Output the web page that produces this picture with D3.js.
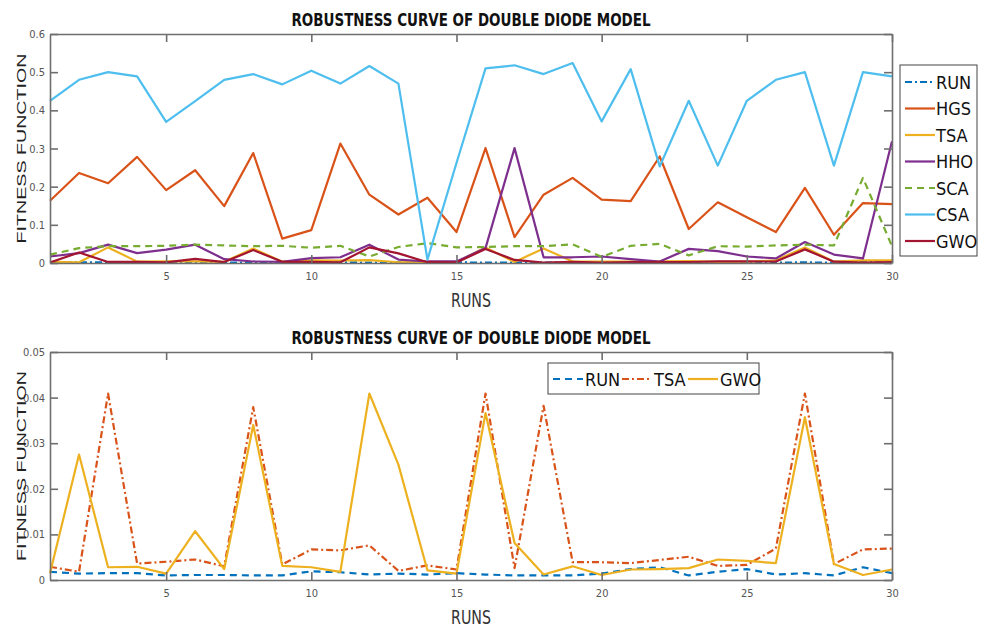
<!DOCTYPE html>
<html><head><meta charset="utf-8">
<script src="https://cdn.jsdelivr.net/npm/d3@7"></script>
<style>
body{margin:0;background:#fff;}
svg{display:block;}
</style></head>
<body>
<svg id="chart" width="989" height="633"></svg>
<script>
const runs = d3.range(1, 31);
const titleText = "ROBUSTNESS CURVE OF DOUBLE DIODE MODEL";
const topTicksY = [0, 0.1, 0.2, 0.3, 0.4, 0.5, 0.6];
const botTicksY = [0, 0.01, 0.02, 0.03, 0.04, 0.05];
const ticksX = [5, 10, 15, 20, 25, 30];

const RUN = [0.0018,0.0014,0.0015,0.0015,0.0010,0.0011,0.0011,0.0010,0.0010,0.0019,
             0.0017,0.0012,0.0014,0.0012,0.0015,0.0012,0.0010,0.0010,0.0010,0.0014,
             0.0024,0.0028,0.0010,0.0018,0.0024,0.0012,0.0015,0.0010,0.0028,0.0015];
const TSA = [0.0029,0.0018,0.0409,0.0036,0.0040,0.0045,0.0030,0.0379,0.0034,0.0067,
             0.0065,0.0076,0.0020,0.0032,0.0023,0.0409,0.0026,0.0382,0.0039,0.0039,
             0.0037,0.0044,0.0051,0.0031,0.0033,0.0069,0.0409,0.0035,0.0067,0.0069];
const GWO = [0.0015,0.0275,0.0028,0.0029,0.0014,0.0107,0.0024,0.0340,0.0031,0.0028,
             0.0018,0.0409,0.0253,0.0021,0.0014,0.0366,0.0081,0.0012,0.0030,0.0011,
             0.0023,0.0024,0.0026,0.0045,0.0042,0.0037,0.0357,0.0035,0.0011,0.0023];
const HGS = [0.163,0.236,0.209,0.278,0.191,0.243,0.149,0.288,0.064,0.086,
             0.313,0.179,0.127,0.171,0.081,0.301,0.068,0.179,0.223,0.166,
             0.162,0.279,0.089,0.159,0.120,0.081,0.197,0.074,0.157,0.154];
const HHO = [0.017,0.026,0.048,0.026,0.035,0.048,0.010,0.004,0.003,0.013,
             0.015,0.048,0.009,0.004,0.004,0.039,0.301,0.015,0.015,0.017,
             0.010,0.004,0.037,0.031,0.017,0.012,0.055,0.022,0.012,0.319];
const SCA = [0.022,0.039,0.044,0.044,0.045,0.048,0.046,0.044,0.045,0.040,
             0.045,0.017,0.042,0.052,0.041,0.042,0.044,0.044,0.049,0.016,
             0.045,0.050,0.020,0.044,0.043,0.046,0.048,0.046,0.223,0.044];
const CSA = [0.425,0.480,0.500,0.489,0.370,0.424,0.480,0.495,0.468,0.504,
             0.470,0.516,0.470,0.009,0.262,0.510,0.518,0.495,0.524,0.371,
             0.508,0.253,0.425,0.255,0.425,0.480,0.500,0.255,0.500,0.489];

const topSeries = [
  {name:"RUN", values:RUN, color:"#0072BD", dash:"7,3,2,3"},
  {name:"HGS", values:HGS, color:"#D95319", dash:null},
  {name:"TSA", values:TSA, color:"#EDB120", dash:null},
  {name:"HHO", values:HHO, color:"#7E2F8E", dash:null},
  {name:"SCA", values:SCA, color:"#77AC30", dash:"7,5"},
  {name:"CSA", values:CSA, color:"#4DBEEE", dash:null},
  {name:"GWO", values:GWO, color:"#A2142F", dash:null}
];
const botSeries = [
  {name:"RUN", values:RUN, color:"#0072BD", dash:"7,5"},
  {name:"TSA", values:TSA, color:"#D95319", dash:"7,3,2,3"},
  {name:"GWO", values:GWO, color:"#EDB120", dash:null}
];

const svg = d3.select("#chart");
const narrow = "'Liberation Sans Narrow','Arial Narrow','DejaVu Sans Condensed',sans-serif";
const axisColor = "#6e6e6e";

function panel(cfg){
  const x = d3.scaleLinear().domain([1,30]).range([cfg.left, cfg.right]);
  const y = d3.scaleLinear().domain(cfg.ydomain).range([cfg.bottom, cfg.top]);
  const g = svg.append("g");

  const line = d3.line().x((d,i)=>x(runs[i])).y(d=>y(d));
  cfg.series.forEach(s=>{
    g.append("path").datum(s.values)
      .attr("d", line)
      .attr("fill","none")
      .attr("stroke", s.color)
      .attr("stroke-width", 2.2)
      .attr("stroke-linejoin","round")
      .attr("stroke-dasharray", s.dash);
  });

  const ax = (a)=>a.tickSizeOuter(0);
  const bx = g.append("g").attr("transform",`translate(0,${cfg.bottom})`)
    .call(ax(d3.axisBottom(x).tickValues(ticksX).tickSize(-8).tickPadding(9).tickFormat(d3.format("d"))));
  const tx = g.append("g").attr("transform",`translate(0,${cfg.top})`)
    .call(ax(d3.axisTop(x).tickValues(ticksX).tickSize(-8).tickFormat("")));
  const ly = g.append("g").attr("transform",`translate(${cfg.left},0)`)
    .call(ax(d3.axisLeft(y).tickValues(cfg.yticks).tickSize(-8).tickPadding(5).tickFormat(d=>d===0?"0":String(+d.toFixed(2)))));
  const ry = g.append("g").attr("transform",`translate(${cfg.right},0)`)
    .call(ax(d3.axisRight(y).tickValues(cfg.yticks).tickSize(-8).tickFormat("")));
  [bx,tx,ly,ry].forEach(a=>{
    a.selectAll("path.domain").attr("stroke",axisColor).attr("stroke-width",1.6);
    a.selectAll(".tick line").attr("stroke",axisColor).attr("stroke-width",1.6);
    a.selectAll(".tick text").attr("fill","#555").style("font-family",narrow).style("font-size","11px");
  });

  g.append("text").attr("x",(cfg.left+cfg.right)/2).attr("y",cfg.top-8)
    .attr("text-anchor","middle").attr("fill","#111")
    .style("font-family",narrow).style("font-weight","bold").style("font-size","18px")
    .attr("textLength",359).attr("lengthAdjust","spacingAndGlyphs")
    .text(titleText);
  g.append("text").attr("x",(cfg.left+cfg.right)/2).attr("y",cfg.bottom+44)
    .attr("text-anchor","middle").attr("fill","#333")
    .style("font-family",narrow).style("font-size","19px")
    .attr("textLength",40).attr("lengthAdjust","spacingAndGlyphs")
    .text("RUNS");
  const cy = (cfg.top+cfg.bottom)/2;
  g.append("text").attr("transform",`translate(26,${cy}) rotate(-90)`)
    .attr("text-anchor","middle").attr("fill","#222")
    .style("font-family","'Liberation Sans',Arial,sans-serif").style("font-size","13px")
    .attr("textLength",190).attr("lengthAdjust","spacingAndGlyphs")
    .text("FITNESS FUNCTION");
  return {x,y,g};
}

panel({left:50,right:892,top:34,bottom:263,ydomain:[0,0.6],yticks:topTicksY,series:topSeries});
panel({left:50,right:892,top:352,bottom:580,ydomain:[0,0.05],yticks:botTicksY,series:botSeries});

const lg1 = svg.append("g");
lg1.append("rect").attr("x",900).attr("y",65).attr("width",77).attr("height",191)
  .attr("fill","#fff").attr("stroke","#444").attr("stroke-width",1);
topSeries.forEach((s,i)=>{
  const yy = 82 + i*26.5;
  lg1.append("line").attr("x1",905).attr("x2",935).attr("y1",yy).attr("y2",yy)
    .attr("stroke",s.color).attr("stroke-width",2.2).attr("stroke-dasharray",s.dash);
  lg1.append("text").attr("x",936).attr("y",yy+6.5).attr("fill","#111")
    .style("font-family",narrow).style("font-size","18px").text(s.name);
});

const lg2 = svg.append("g");
lg2.append("rect").attr("x",548).attr("y",363).attr("width",211).attr("height",31)
  .attr("fill","#fff").attr("stroke","#444").attr("stroke-width",1);
const bpos = [553, 622, 688];
botSeries.forEach((s,i)=>{
  const x0 = bpos[i], yy = 379;
  lg2.append("line").attr("x1",x0).attr("x2",x0+30).attr("y1",yy).attr("y2",yy)
    .attr("stroke",s.color).attr("stroke-width",2.2).attr("stroke-dasharray",s.dash);
  lg2.append("text").attr("x",x0+32).attr("y",yy+6.5).attr("fill","#111")
    .style("font-family",narrow).style("font-size","18px").text(s.name);
});
</script>
</body></html>
